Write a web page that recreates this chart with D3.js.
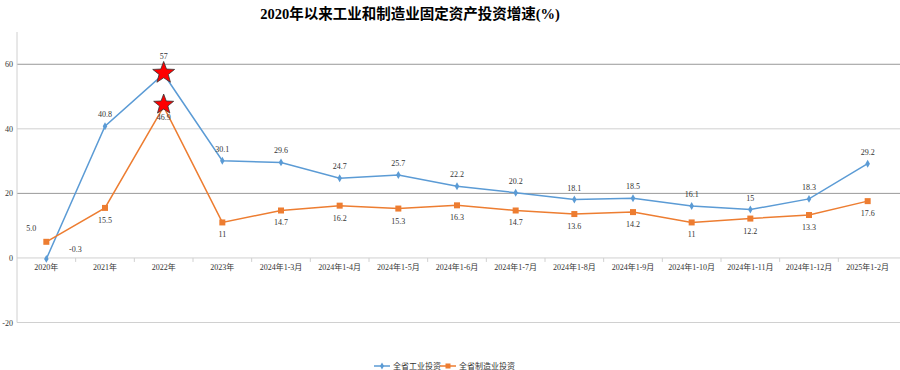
<!DOCTYPE html>
<html>
<head>
<meta charset="utf-8">
<script src="https://cdn.jsdelivr.net/npm/d3@7"></script>
<style>
  body { margin: 0; background: #fff; }
  text { font-family: "Liberation Serif", "Noto Sans CJK SC", serif; }
</style>
</head>
<body>
<div id="chart"></div>
<script>
var categories = ["2020年", "2021年", "2022年", "2023年", "2024年1-3月", "2024年1-4月", "2024年1-5月",
  "2024年1-6月", "2024年1-7月", "2024年1-8月", "2024年1-9月", "2024年1-10月", "2024年1-11月",
  "2024年1-12月", "2025年1-2月"];
var industry = [-0.3, 40.8, 57, 30.1, 29.6, 24.7, 25.7, 22.2, 20.2, 18.1, 18.5, 16.1, 15, 18.3, 29.2];
var industryLabels = ["-0.3", "40.8", "57", "30.1", "29.6", "24.7", "25.7", "22.2", "20.2", "18.1", "18.5", "16.1", "15", "18.3", "29.2"];
var manufacturing = [5.0, 15.5, 46.9, 11, 14.7, 16.2, 15.3, 16.3, 14.7, 13.6, 14.2, 11, 12.2, 13.3, 17.6];
var manufacturingLabels = ["5.0", "15.5", "46.9", "11", "14.7", "16.2", "15.3", "16.3", "14.7", "13.6", "14.2", "11", "12.2", "13.3", "17.6"];
var yTicks = [-20, 0, 20, 40, 60];
var seriesNames = ["全省工业投资", "全省制造业投资"];

var width = 900, height = 370;
var blue = "#5b9bd5", orange = "#ed7d31";

var svg = d3.select("#chart").append("svg")
  .attr("width", width)
  .attr("height", height);

var x = d3.scaleBand().domain(categories).range([17, 897]);
var y = d3.scaleLinear().domain([-20, 70]).range([322.5, 32]);
function cx(d) { return x(d) + x.bandwidth() / 2; }

// title
svg.append("text")
  .attr("x", 410).attr("y", 19)
  .attr("text-anchor", "middle")
  .attr("font-size", "14.5px")
  .attr("font-weight", "bold")
  .attr("fill", "#000")
  .text("2020年以来工业和制造业固定资产投资增速(%)");

// gridlines
svg.append("g").selectAll("line")
  .data(yTicks)
  .enter().append("line")
  .attr("x1", 17).attr("x2", 900)
  .attr("y1", function(d) { return y(d); })
  .attr("y2", function(d) { return y(d); })
  .attr("stroke", function(d) { return (d === 60 || d === 20) ? "#999" : "#d0d0d0"; })
  .attr("stroke-width", 1);

// y axis line
svg.append("line")
  .attr("x1", 17).attr("x2", 17)
  .attr("y1", y(70)).attr("y2", y(-20))
  .attr("stroke", "#d0d0d0");

// y tick labels
svg.append("g").selectAll("text")
  .data(yTicks)
  .enter().append("text")
  .attr("x", 13)
  .attr("y", function(d) { return y(d) + 3; })
  .attr("text-anchor", "end")
  .attr("font-size", "8px")
  .attr("fill", "#333")
  .text(function(d) { return d; });

// x ticks at band edges
svg.append("g").selectAll("line")
  .data(categories.slice(1))
  .enter().append("line")
  .attr("x1", function(d) { return x(d); })
  .attr("x2", function(d) { return x(d); })
  .attr("y1", y(0)).attr("y2", y(0) + 4)
  .attr("stroke", "#d0d0d0");

svg.append("g").selectAll("text")
  .data(categories)
  .enter().append("text")
  .attr("x", function(d) { return cx(d); })
  .attr("y", y(0) + 12)
  .attr("text-anchor", "middle")
  .attr("font-size", "8px")
  .attr("fill", "#333")
  .text(function(d) { return d; });

var line = d3.line()
  .x(function(d, i) { return cx(categories[i]); })
  .y(function(d) { return y(d); });

svg.append("path").datum(industry)
  .attr("d", line).attr("fill", "none")
  .attr("stroke", blue).attr("stroke-width", 1.5);
svg.append("path").datum(manufacturing)
  .attr("d", line).attr("fill", "none")
  .attr("stroke", orange).attr("stroke-width", 1.5);

// markers
svg.append("g").selectAll("path")
  .data(industry)
  .enter().append("path")
  .attr("d", d3.symbol().type(d3.symbolDiamond).size(18))
  .attr("transform", function(d, i) { return "translate(" + cx(categories[i]) + "," + y(d) + ")"; })
  .attr("fill", blue);
svg.append("g").selectAll("rect")
  .data(manufacturing)
  .enter().append("rect")
  .attr("x", function(d, i) { return cx(categories[i]) - 3; })
  .attr("y", function(d) { return y(d) - 3; })
  .attr("width", 6).attr("height", 6)
  .attr("fill", orange);

// stars at 2022
function star(r) {
  var pts = [];
  for (var k = 0; k < 10; k++) {
    var rr = k % 2 === 0 ? r : r * 0.42;
    var a = -Math.PI / 2 + k * Math.PI / 5;
    pts.push([rr * Math.cos(a), rr * Math.sin(a)]);
  }
  return "M" + pts.join("L") + "Z";
}
svg.append("path")
  .attr("d", star(11.5))
  .attr("transform", "translate(" + cx("2022年") + "," + (y(57) - 1) + ")")
  .attr("fill", "#ff0000").attr("stroke", "#333").attr("stroke-width", 0.8);
svg.append("path")
  .attr("d", star(10.5))
  .attr("transform", "translate(" + cx("2022年") + "," + (y(46.9) - 2) + ")")
  .attr("fill", "#ff0000").attr("stroke", "#333").attr("stroke-width", 0.8);

// data labels
svg.append("g").selectAll("text")
  .data(industry)
  .enter().append("text")
  .attr("x", function(d, i) { return i === 0 ? cx(categories[i]) + 29 : cx(categories[i]); })
  .attr("y", function(d, i) { return i === 0 ? y(d) - 7 : (i === 2 ? y(d) - 15 : y(d) - 9); })
  .attr("text-anchor", "middle")
  .attr("font-size", "8px")
  .attr("fill", "#333")
  .text(function(d, i) { return industryLabels[i]; });
svg.append("g").selectAll("text")
  .data(manufacturing)
  .enter().append("text")
  .attr("x", function(d, i) { return i === 0 ? cx(categories[i]) - 15 : cx(categories[i]); })
  .attr("y", function(d, i) { return i === 0 ? y(d) - 11 : (i === 2 ? y(d) + 13 : y(d) + 15); })
  .attr("text-anchor", "middle")
  .attr("font-size", "8px")
  .attr("fill", "#333")
  .text(function(d, i) { return manufacturingLabels[i]; });

// legend
var legend = svg.append("g").attr("transform", "translate(374,366)");
var lg1 = legend.append("g");
lg1.append("line").attr("x1", 0).attr("x2", 16).attr("y1", 0).attr("y2", 0)
  .attr("stroke", blue).attr("stroke-width", 1.5);
lg1.append("path").attr("d", d3.symbol().type(d3.symbolDiamond).size(14))
  .attr("transform", "translate(8,0)").attr("fill", blue);
lg1.append("text").attr("x", 19).attr("y", 3).attr("font-size", "8px").attr("fill", "#333")
  .text(seriesNames[0]);
var lg2 = legend.append("g").attr("transform", "translate(66,0)");
lg2.append("line").attr("x1", 0).attr("x2", 16).attr("y1", 0).attr("y2", 0)
  .attr("stroke", orange).attr("stroke-width", 1.5);
lg2.append("rect").attr("x", 5.5).attr("y", -2.5).attr("width", 5).attr("height", 5).attr("fill", orange);
lg2.append("text").attr("x", 19).attr("y", 3).attr("font-size", "8px").attr("fill", "#333")
  .text(seriesNames[1]);
</script>
</body>
</html>
